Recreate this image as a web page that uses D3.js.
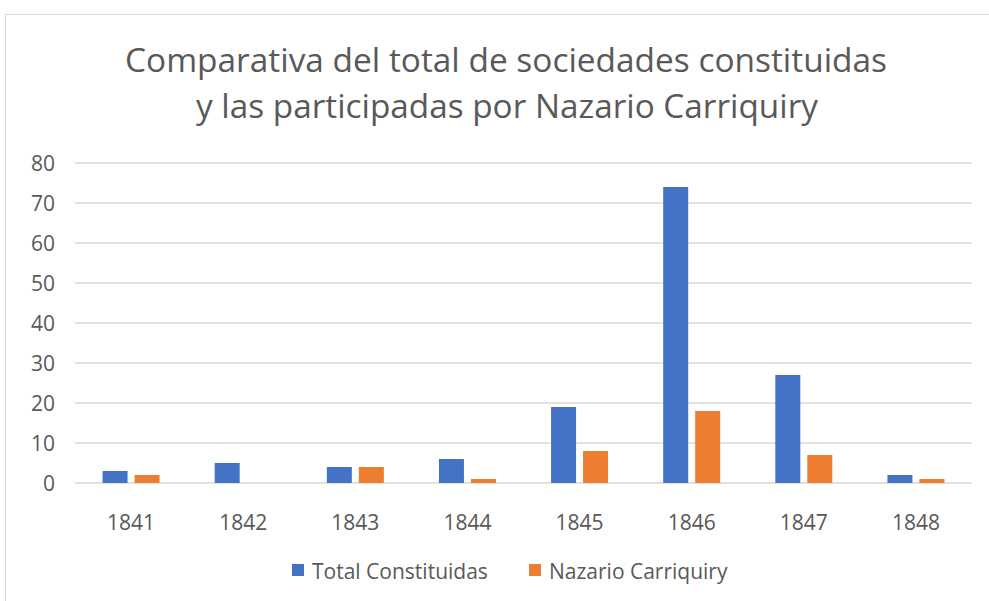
<!DOCTYPE html>
<html>
<head>
<meta charset="utf-8">
<style>
  body { margin: 0; background: #fff; }
  text { font-family: "Open Sans", "Noto Sans", sans-serif; fill: #595959; }
</style>
</head>
<body>
<svg id="chart"></svg>
<script src="https://cdn.jsdelivr.net/npm/d3@7"></script>
<script>
  let years = ["1841", "1842", "1843", "1844", "1845", "1846", "1847", "1848"];
  let totalConstituidas = [3, 5, 4, 6, 19, 74, 27, 2];
  let nazarioCarriquiry = [2, 0, 4, 1, 8, 18, 7, 1];
  let seriesNames = ["Total Constituidas", "Nazario Carriquiry"];
  let seriesColors = ["#4472C4", "#ED7D31"];
  let yTicks = [0, 10, 20, 30, 40, 50, 60, 70, 80];

  let width = 989, height = 601;
  let svg = d3.select("#chart").attr("width", width).attr("height", height);

  // chart frame (only top and left visible in the crop)
  svg.append("path")
     .attr("d", "M5.5," + height + "V14.5H" + width)
     .attr("fill", "none")
     .attr("stroke", "#d9d9d9");

  // title
  let title = svg.append("text")
     .attr("text-anchor", "middle")
     .attr("font-size", 32);
  title.append("tspan").attr("x", 506).attr("y", 72)
     .attr("textLength", 762).attr("lengthAdjust", "spacingAndGlyphs")
     .text("Comparativa del total de sociedades constituidas");
  title.append("tspan").attr("x", 507).attr("y", 118)
     .attr("textLength", 622).attr("lengthAdjust", "spacingAndGlyphs")
     .text("y las participadas por Nazario Carriquiry");

  let x = d3.scaleBand().domain(years).range([75, 972]);
  let y = d3.scaleLinear().domain([0, 80]).range([483, 163]);

  // gridlines
  svg.append("g").selectAll("line")
     .data(yTicks)
     .enter()
     .append("line")
     .attr("x1", 75).attr("x2", 972)
     .attr("y1", d => y(d)).attr("y2", d => y(d))
     .attr("stroke", "#d9d9d9")
     .attr("stroke-width", 1.5);

  // y labels
  svg.append("g").selectAll("text")
     .data(yTicks)
     .enter()
     .append("text")
     .attr("x", 55)
     .attr("y", d => y(d))
     .attr("dy", "0.36em")
     .attr("text-anchor", "end")
     .attr("font-size", 21)
     .text(d => d);

  // x labels
  svg.append("g").selectAll("text")
     .data(years)
     .enter()
     .append("text")
     .attr("x", d => x(d) + x.bandwidth() / 2)
     .attr("y", 530)
     .attr("text-anchor", "middle")
     .attr("font-size", 21)
     .text(d => d);

  let barW = 25, gap = 7;
  let series = [totalConstituidas, nazarioCarriquiry];
  series.forEach(function (vals, s) {
    svg.append("g").selectAll("rect")
       .data(vals)
       .enter()
       .append("rect")
       .attr("x", (d, i) => x(years[i]) + x.bandwidth() / 2 + (s === 0 ? -(barW + gap / 2) : gap / 2))
       .attr("y", d => y(d))
       .attr("width", barW)
       .attr("height", d => y(0) - y(d))
       .attr("fill", seriesColors[s]);
  });

  // legend
  let legendX = [292, 529];
  let legend = svg.append("g").selectAll("g")
     .data(seriesNames)
     .enter()
     .append("g")
     .attr("transform", (d, i) => "translate(" + legendX[i] + ",576)");
  legend.append("rect")
     .attr("x", 0).attr("y", -12)
     .attr("width", 12).attr("height", 12)
     .attr("fill", (d, i) => seriesColors[i]);
  legend.append("text")
     .attr("x", 20)
     .attr("y", 3)
     .attr("font-size", 21)
     .text(d => d);
</script>
</body>
</html>
